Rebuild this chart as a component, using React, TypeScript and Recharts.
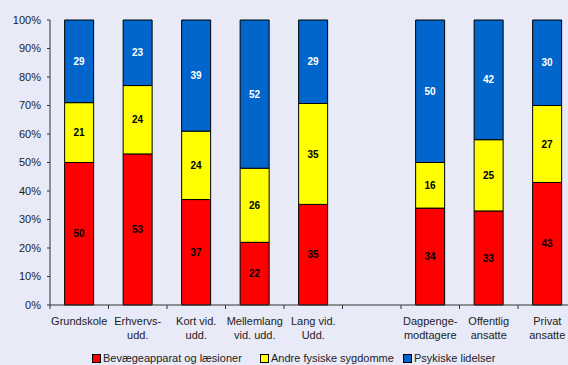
import { BarChart, Bar, XAxis, YAxis, LabelList } from 'recharts';

const categories = [
  ['Grundskole'],
  ['Erhvervs-', 'udd.'],
  ['Kort vid.', 'udd.'],
  ['Mellemlang', 'vid. udd.'],
  ['Lang vid.', 'Udd.'],
  [],
  ['Dagpenge-', 'modtagere'],
  ['Offentlig', 'ansatte'],
  ['Privat', 'ansatte'],
];
// Lang vid. shares are unrounded (labels show 35 / 35 / 29)
const bevaege = [50, 53, 37, 22, 35.3, null, 34, 33, 43];
const andre = [21, 24, 24, 26, 35.4, null, 16, 25, 27];
const psykiske = [29, 23, 39, 52, 29.3, null, 50, 42, 30];
const yTicks = [0, 10, 20, 30, 40, 50, 60, 70, 80, 90, 100];

const legendItems = [
  { name: 'Bevægeapparat og læsioner', color: '#FF0000', left: 92 },
  { name: 'Andre fysiske sygdomme', color: '#FFFF00', left: 260 },
  { name: 'Psykiske lidelser', color: '#0066CC', left: 403 },
];

const data = categories.map((c, i) => ({
  key: String(i),
  lines: c,
  a: bevaege[i],
  b: andre[i],
  c: psykiske[i],
}));

const FONT = '"Liberation Sans", Arial, sans-serif';
const HALF_SLOT = 29.25;

// category label with boundary tick marks
function CategoryTick(props: any) {
  const { x, y, index } = props;
  const lines = categories[index] || [];
  return (
    <g>
      <line x1={x - HALF_SLOT} x2={x - HALF_SLOT} y1={y} y2={y + 4} stroke="#333" />
      {index === categories.length - 1 && (
        <line x1={x + HALF_SLOT} x2={x + HALF_SLOT} y1={y} y2={y + 4} stroke="#333" />
      )}
      {lines.map((l: string, j: number) => (
        <text
          key={j}
          x={x}
          y={y + 20 + j * 14}
          textAnchor="middle"
          fontSize={11}
          fontFamily={FONT}
          fill="#222"
        >
          {l}
        </text>
      ))}
    </g>
  );
}

const labelStyle = { fontSize: 10, fontWeight: 'bold', fontFamily: FONT };
const fmt = (v: any) => (v == null ? '' : Math.round(v));

export default function App() {
  return (
    <div
      style={{
        position: 'absolute',
        left: 0,
        top: 0,
        width: 568,
        height: 365,
        overflow: 'hidden',
        background: '#E8EAF8',
      }}
    >
      <BarChart
        width={590}
        height={365}
        data={data}
        margin={{ top: 20, right: 13.5, bottom: 20, left: 0 }}
        barCategoryGap="25%"
      >
        <XAxis
          dataKey="key"
          interval={0}
          tickSize={0}
          tickMargin={0}
          tick={<CategoryTick />}
          tickLine={false}
          axisLine={{ stroke: '#333' }}
          height={40}
        />
        <YAxis
          width={50}
          domain={[0, 100]}
          ticks={yTicks}
          tickSize={3}
          tickMargin={6}
          tickFormatter={(v) => `${v}%`}
          tick={{ fill: '#222', fontSize: 11, fontFamily: FONT }}
          tickLine={{ stroke: '#333' }}
          axisLine={{ stroke: '#333' }}
          interval={0}
        />
        <Bar dataKey="a" stackId="s" fill="#FF0000" stroke="#000" strokeWidth={1} isAnimationActive={false}>
          <LabelList dataKey="a" position="center" fill="#000" style={labelStyle} formatter={fmt} />
        </Bar>
        <Bar dataKey="b" stackId="s" fill="#FFFF00" stroke="#000" strokeWidth={1} isAnimationActive={false}>
          <LabelList dataKey="b" position="center" fill="#000" style={labelStyle} formatter={fmt} />
        </Bar>
        <Bar dataKey="c" stackId="s" fill="#0066CC" stroke="#000" strokeWidth={1} isAnimationActive={false}>
          <LabelList dataKey="c" position="center" fill="#fff" style={labelStyle} formatter={fmt} />
        </Bar>
      </BarChart>
      {legendItems.map((it) => (
        <div
          key={it.name}
          style={{
            position: 'absolute',
            left: it.left,
            top: 352,
            display: 'flex',
            alignItems: 'center',
            fontFamily: FONT,
            fontSize: 11,
            color: '#222',
            whiteSpace: 'nowrap',
          }}
        >
          <span
            style={{
              display: 'inline-block',
              width: 7,
              height: 7,
              background: it.color,
              border: '1px solid #000',
              marginRight: 2,
            }}
          />
          {it.name}
        </div>
      ))}
    </div>
  );
}
